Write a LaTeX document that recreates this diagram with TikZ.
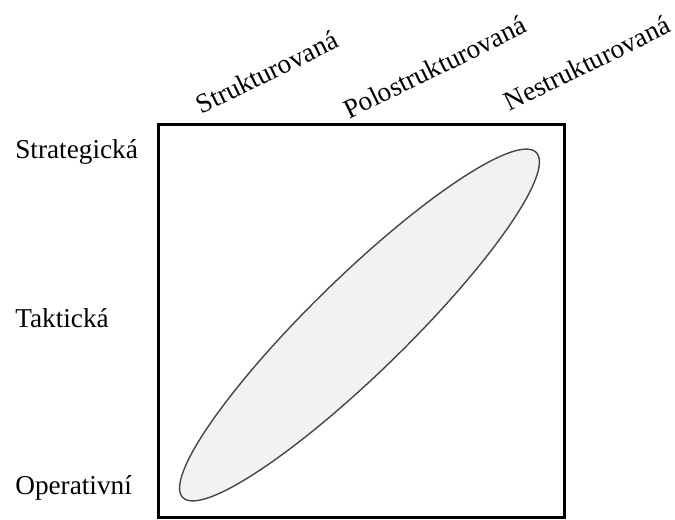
\documentclass[tikz,border=0pt]{standalone}
\usepackage{fontspec}
\setmainfont{Liberation Serif}
\usepackage{xcolor}
\definecolor{ovalfill}{RGB}{242,242,242}
\definecolor{ovalline}{RGB}{70,70,70}
\usetikzlibrary{shapes.geometric}

\begin{document}
\begin{tikzpicture}[
level/.style={anchor=west,inner sep=0pt,font=\fontsize{15.5}{18}\selectfont},
kind/.style={rotate=26,inner sep=0pt,font=\fontsize{15.5}{18}\selectfont},
frame/.style={draw=black,line width=0.06cm},
oval/.style={ellipse,draw=ovalline,line width=0.8pt,fill=ovalfill,rotate=44.3,minimum width=9.88cm,minimum height=1.92cm,inner sep=0pt}]
\useasboundingbox (0,0) rectangle (13.5,10.38);
\draw[frame] (3.16,0.04) rectangle (11.28,7.89);
\node[oval] (zone) at (7.19,3.88) {};
\node[level] (strat) at (0.3,7.34) {Strategická};
\node[level] (takt)  at (0.3,4.02) {Taktická};
\node[level] (oper)  at (0.3,0.62) {Operativní};
\node[kind] (struk)  at (5.34,8.94) {Strukturovaná};
\node[kind] (polo)   at (8.70,9.04) {Polostrukturovaná};
\node[kind] (nestr)  at (11.74,9.12) {Nestrukturovaná};
\end{tikzpicture}
\end{document}
